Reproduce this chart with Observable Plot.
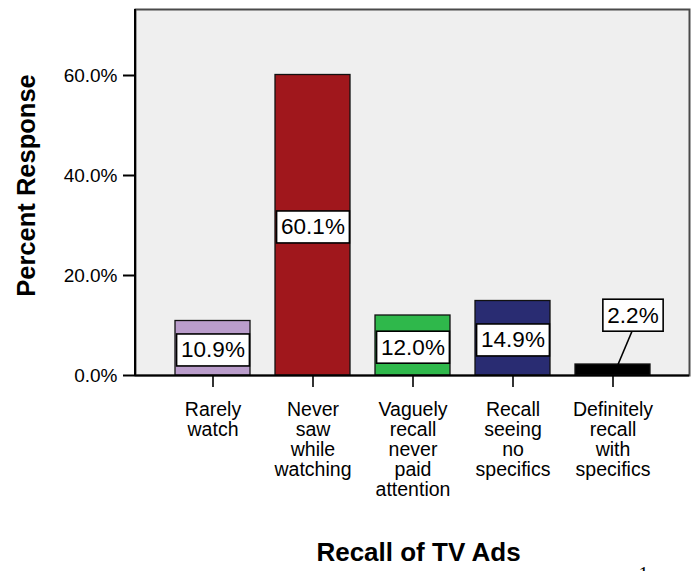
<!DOCTYPE html>
<html>
<head>
<meta charset="utf-8">
<script src="https://cdn.jsdelivr.net/npm/d3@7"></script>
<script src="https://cdn.jsdelivr.net/npm/@observablehq/plot@0.6"></script>
<style>
  html, body { margin: 0; padding: 0; background: #fff; }
  #chart svg { display: block; }
</style>
</head>
<body>
<div id="chart"></div>
<script>
// ---- data ----
const categories = [
  "Rarely\nwatch",
  "Never\nsaw\nwhile\nwatching",
  "Vaguely\nrecall\nnever\npaid\nattention",
  "Recall\nseeing\nno\nspecifics",
  "Definitely\nrecall\nwith\nspecifics"
];
const percents = [10.9, 60.1, 12.0, 14.9, 2.2];
const barColors = ["#ba9dcb", "#a0171c", "#2fb84b", "#292c72", "#000000"];
const yTicks = [0, 20, 40, 60];
const xTitle = "Recall of TV Ads";
const yTitle = "Percent Response";
const pageNumber = "1";

// ---- build ----
const data = categories.map((c, i) => ({
  cat: c, value: percents[i], color: barColors[i], label: percents[i].toFixed(1) + "%"
}));
const inside = data.filter(d => d.value >= 5);
const outside = data.filter(d => d.value < 5);
const insideLabels = new Set(inside.map(d => d.label));
const outsideLabels = new Set(outside.map(d => d.label));
const font = "'Liberation Sans', Arial, Helvetica, sans-serif";
const outDx = 20, outDy = -49;

const leftAxisLine = (index, scales, values, dims) => {
  const line = document.createElementNS("http://www.w3.org/2000/svg", "line");
  line.setAttribute("x1", dims.marginLeft);
  line.setAttribute("x2", dims.marginLeft);
  line.setAttribute("y1", dims.marginTop);
  line.setAttribute("y2", dims.height - dims.marginBottom);
  line.setAttribute("stroke", "#000");
  line.setAttribute("stroke-width", 2);
  return line;
};

const plot = Plot.plot({
  width: 695,
  height: 571,
  marginLeft: 135,
  marginRight: 6,
  marginTop: 9,
  marginBottom: 196,
  style: { fontFamily: font, background: "#fff", color: "#000", overflow: "visible" },
  x: { domain: categories, paddingInner: 0.25, paddingOuter: 0.395, label: null },
  y: { domain: [0, 73.2], label: null },
  color: { type: "identity" },
  marks: [
    Plot.frame({ fill: "#efefef", stroke: "#4a4a4a", strokeWidth: 2 }),
    Plot.barY(data, { x: "cat", y: "value", fill: "color", stroke: "#111", strokeWidth: 1.3 }),
    Plot.ruleY([0], { stroke: "#000", strokeWidth: 2 }),
    leftAxisLine,
    Plot.axisY({
      ticks: yTicks, tickFormat: d => d.toFixed(1) + "%",
      tickSize: 12, tickPadding: 6, fontSize: 19, strokeWidth: 2, label: null
    }),
    Plot.axisX({
      tickSize: 12, tickPadding: 14, fontSize: 19.5, lineHeight: 1.03,
      strokeWidth: 1.6, label: null
    }),
    Plot.text(inside, {
      x: "cat", y: d => d.value / 2, text: "label", fontSize: 22.5, dy: 2
    }),
    Plot.text(outside, {
      x: "cat", y: "value", text: "label", fontSize: 22.5, dx: outDx, dy: outDy
    }),
    Plot.text([xTitle], {
      frameAnchor: "bottom", textAnchor: "middle", text: d => d, dx: 6, dy: 185,
      fontSize: 26, fontWeight: "bold"
    }),
    Plot.text([yTitle], {
      frameAnchor: "left", textAnchor: "middle", text: d => d, rotate: -90,
      dx: -109, dy: -7, fontSize: 25.5, fontWeight: "bold"
    }),
    Plot.text([pageNumber], {
      frameAnchor: "bottom-right", textAnchor: "middle", text: d => d, dx: -46, dy: 191,
      lineAnchor: "top", fontSize: 20, fontFamily: "'Liberation Serif', 'DejaVu Serif', serif"
    })
  ]
});

document.getElementById("chart").appendChild(plot);

// white boxed labels
const svgNS = "http://www.w3.org/2000/svg";
function boxText(textEl) {
  const b = textEl.getBBox();
  const r = document.createElementNS(svgNS, "rect");
  const padX = 4.5, padY = 3.5;
  r.setAttribute("x", b.x - padX);
  r.setAttribute("y", b.y - padY);
  r.setAttribute("width", b.width + 2 * padX);
  r.setAttribute("height", b.height + 2 * padY);
  r.setAttribute("fill", "#fff");
  r.setAttribute("stroke", "#000");
  r.setAttribute("stroke-width", 1.6);
  const t = textEl.getAttribute("transform");
  if (t) r.setAttribute("transform", t);
  textEl.parentNode.insertBefore(r, textEl);
  return { b, padY, t };
}
const allTexts = Array.from(plot.querySelectorAll('g[aria-label="text"] text'));
allTexts.filter(el => insideLabels.has(el.textContent)).forEach(el => boxText(el));
allTexts.filter(el => outsideLabels.has(el.textContent)).forEach(el => {
  const { b, padY, t } = boxText(el);
  const ln = document.createElementNS(svgNS, "line");
  const cx = b.x + b.width / 2;
  ln.setAttribute("x1", cx - 1);
  ln.setAttribute("y1", b.y + b.height + padY);
  ln.setAttribute("x2", -outDx + 5);
  ln.setAttribute("y2", -outDy);
  ln.setAttribute("stroke", "#000");
  ln.setAttribute("stroke-width", 1.6);
  if (t) ln.setAttribute("transform", t);
  el.parentNode.insertBefore(ln, el);
});
</script>
</body>
</html>
